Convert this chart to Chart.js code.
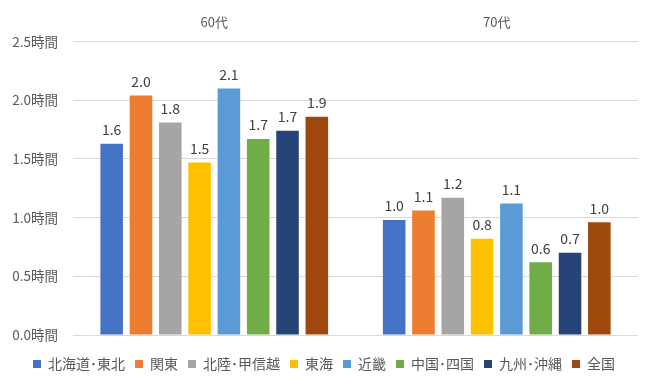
<!DOCTYPE html>
<html>
<head>
<meta charset="utf-8">
<script src="https://cdn.jsdelivr.net/npm/chart.js@4/dist/chart.umd.min.js"></script>
<style>
html,body{margin:0;padding:0;background:#fff;}
#wrap{width:648px;height:385px;}
</style>
</head>
<body>
<div id="wrap"><canvas id="chart"></canvas></div>
<script>
// age groups on the top axis
const ageGroups = ["60代", "70代"];

// regions (one series each)
const regions = ["北海道･東北", "関東", "北陸･甲信越", "東海", "近畿", "中国･四国", "九州･沖縄", "全国"];

const hokkaidoTohoku = [1.63, 0.98];
const kanto = [2.04, 1.06];
const hokurikuKoshinetsu = [1.81, 1.17];
const tokai = [1.47, 0.82];
const kinki = [2.10, 1.12];
const chugokuShikoku = [1.67, 0.62];
const kyushuOkinawa = [1.74, 0.70];
const zenkoku = [1.86, 0.96];

const seriesValues = [hokkaidoTohoku, kanto, hokurikuKoshinetsu, tokai, kinki, chugokuShikoku, kyushuOkinawa, zenkoku];

const yTicks = [0, 0.5, 1.0, 1.5, 2.0, 2.5];

const colors = ["#4472C4", "#ED7D31", "#A5A5A5", "#FFC000", "#5B9BD5", "#70AD47", "#264478", "#9E480E"];

const jpFont = "'Noto Sans CJK JP', 'Noto Sans', sans-serif";

// simple value labels above each bar
const barLabels = {
  id: "barLabels",
  afterDatasetsDraw(chart){
    const ctx = chart.ctx;
    ctx.save();
    ctx.font = "14px " + jpFont;
    ctx.fillStyle = "#404040";
    ctx.textAlign = "center";
    ctx.textBaseline = "bottom";
    chart.data.datasets.forEach((ds, i) => {
      const meta = chart.getDatasetMeta(i);
      meta.data.forEach((bar, j) => {
        ctx.fillText(ds.data[j].toFixed(1), bar.x, bar.y - 7);
      });
    });
    ctx.restore();
  }
};

new Chart(document.getElementById("chart"), {
  type: "bar",
  data: {
    labels: ageGroups,
    datasets: regions.map((r, i) => ({
      label: r,
      data: seriesValues[i],
      backgroundColor: colors[i],
      barPercentage: 0.77,
      categoryPercentage: 0.83
    }))
  },
  options: {
    responsive: true,
    maintainAspectRatio: false,
    animation: false,
    layout: { padding: { left: 10, right: 10, top: 2, bottom: 4 } },
    scales: {
      x: {
        position: "top",
        grid: { display: false, drawTicks: false },
        border: { display: false },
        ticks: { color: "#595959", font: { size: 13, family: jpFont }, padding: 12 }
      },
      // empty axis, only keeps a gap between the plot and the legend
      gap: {
        type: "category",
        position: "bottom",
        grid: { display: false, drawTicks: false },
        border: { display: false },
        ticks: { display: false },
        afterFit(scale){ scale.height = 12; }
      },
      y: {
        min: 0,
        max: 2.5,
        afterBuildTicks(axis){ axis.ticks = yTicks.map(v => ({ value: v })); },
        afterFit(scale){ scale.width = 63; },
        grid: { color: "#D9D9D9", drawTicks: false },
        border: { display: false },
        ticks: {
          color: "#595959",
          font: { size: 13.5, family: jpFont },
          padding: 15,
          callback: v => Number(v).toFixed(1) + "時間"
        }
      }
    },
    plugins: {
      legend: {
        position: "bottom",
        labels: {
          boxWidth: 8,
          boxHeight: 8,
          padding: 10,
          color: "#595959",
          font: { size: 14, family: jpFont }
        }
      },
      tooltip: { enabled: false }
    }
  },
  plugins: [barLabels]
});
</script>
</body>
</html>
